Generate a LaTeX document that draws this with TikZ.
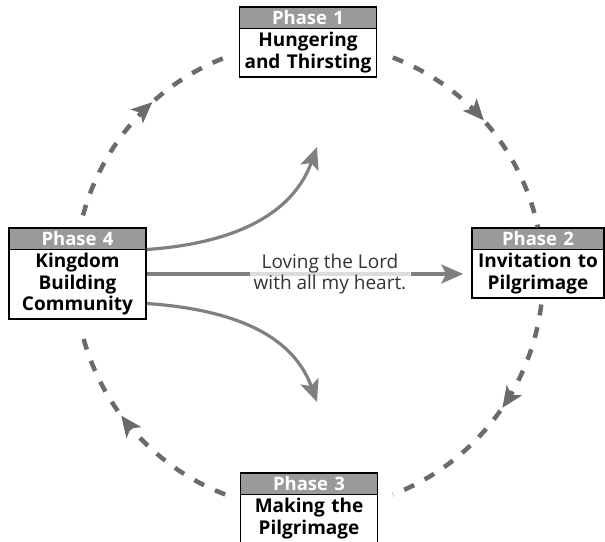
\documentclass[tikz,border=0pt]{standalone}
\usepackage{fontspec}
\setmainfont{Open Sans}
\usetikzlibrary{shapes.multipart,arrows.meta,decorations.markings}

\definecolor{flowgray}{HTML}{808080}
\definecolor{dashgray}{HTML}{6B6B6B}
\definecolor{headgray}{HTML}{9A9A9A}
\definecolor{palegray}{HTML}{DCDCDC}
\definecolor{textgray}{HTML}{333333}

\newcommand{\phasetag}[1]{\textcolor{white}{\fontsize{18.5}{19}\selectfont Phase #1}}

\begin{document}
	\begin{tikzpicture}[
			x=1pt, y=1pt,
			phase/.style={rectangle split, rectangle split parts=2, draw=black, line width=1.6pt,
					rectangle split part fill={headgray,white}, text width=129pt, align=center,
					inner xsep=4pt, inner ysep=3pt, anchor=north,
					font=\bfseries\fontsize{19}{21.5}\selectfont},
			flow/.style={draw=flowgray, line width=3.2pt},
			tip/.style={-{Stealth[length=22pt, width=19pt, inset=5pt]}},
			cyc/.style={draw=dashgray, line width=4.5pt, dash pattern=on 11pt off 12pt,
					postaction={decorate}, decoration={markings,
							mark=at position #1 with {\arrow[solid, dashgray]{Stealth[length=21pt, width=18pt, inset=5pt]}}}}
		]
		\useasboundingbox (0,0) rectangle (605,541);
		\coordinate (c) at (309,265);

		% the four phases
		\node[phase] (p1) at (308,535) {\phasetag{1} \nodepart{two} Hungering\\and Thirsting};
		\node[phase, text width=124pt] (p2) at (538,314) {\phasetag{2} \nodepart{two} Invitation to\\Pilgrimage};
		\node[phase] (p3) at (309,69) {\phasetag{3} \nodepart{two} Making the\\Pilgrimage};
		\node[phase] (p4) at (77.5,314) {\phasetag{4} \nodepart{two} Kingdom\\Building\\Community};

		% dashed cycle
		\draw[cyc=0.48] ([shift={(69:234)}]c) arc[start angle=69, end angle=12, radius=234];
		\draw[cyc=0.44] ([shift={(-7:234)}]c) arc[start angle=-7, end angle=-69, radius=234];
		\draw[cyc=0.6] ([shift={(249:234)}]c) arc[start angle=249, end angle=195, radius=234];
		\draw[cyc=0.6] ([shift={(165:234)}]c) arc[start angle=165, end angle=110, radius=234];

		% arrows out of phase 4
		\coordinate (up) at (317,394);
		\coordinate (down) at (317,139);
		\node[text=textgray, font=\fontsize{19}{20.5}\selectfont, align=center, inner xsep=4pt,
			path picture={\draw[palegray, line width=3.2pt] (path picture bounding box.west) -- (path picture bounding box.east);}]
			(love) at (330,267) {Loving the Lord\\with all my heart.};
		\draw[flow] (p4.east |- love) -- (love.west);
		\draw[flow, tip, shorten >=8pt] (love.east) -- (love.east -| p2.west);
		\draw[flow, tip] ([yshift=24pt]p4.east) to[out=4, in=-110] (up);
		\draw[flow, tip] ([yshift=-30pt]p4.east) to[out=-4, in=110] (down);
	\end{tikzpicture}
\end{document}
